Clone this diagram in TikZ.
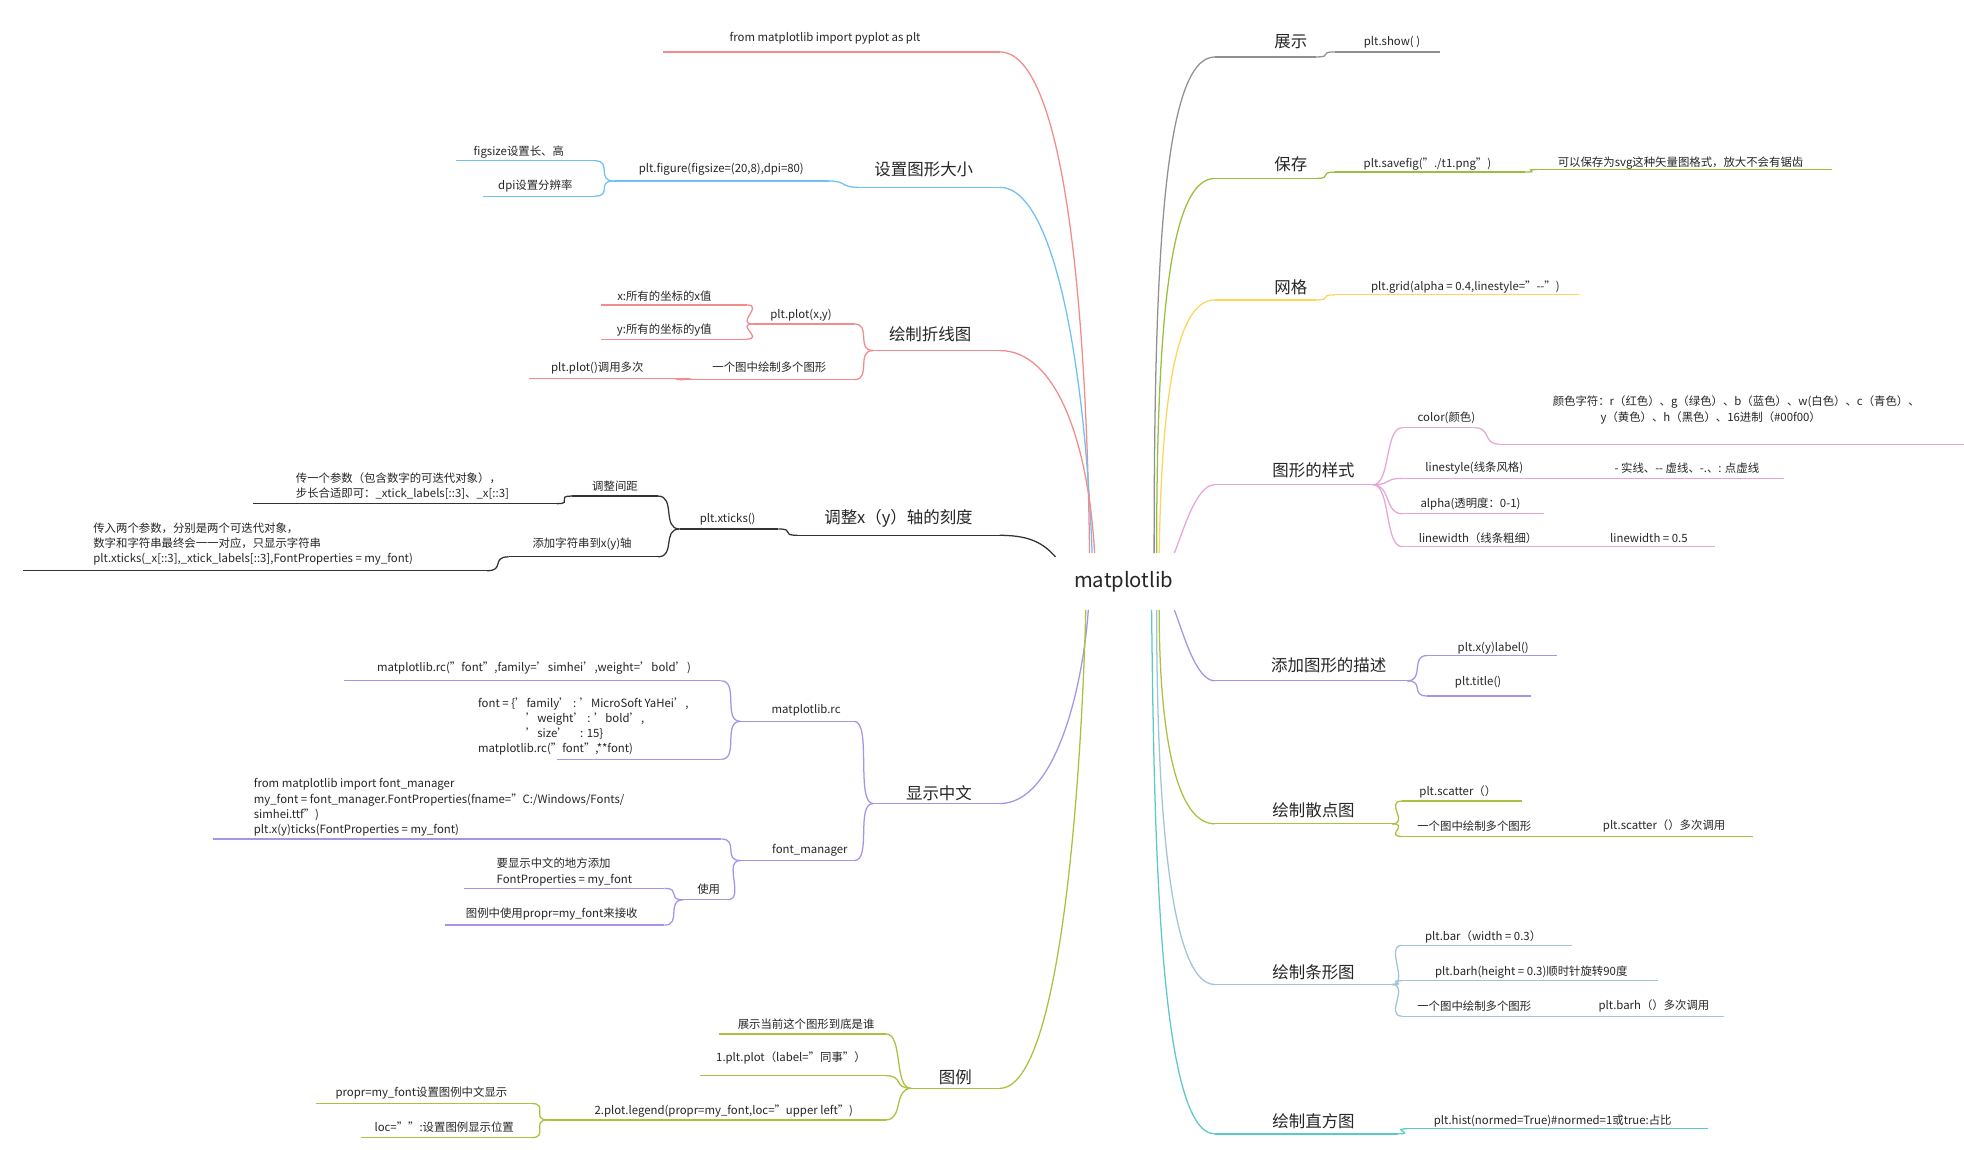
\documentclass[tikz,border=0pt]{standalone}
\usepackage{fontspec}
\usetikzlibrary{calc}
\setmainfont{Noto Sans CJK SC}
\definecolor{cred}{HTML}{F28B8B}
\definecolor{cblue}{HTML}{6EC1F0}
\definecolor{cdark}{HTML}{333333}
\definecolor{cpurp}{HTML}{A993E6}
\definecolor{colive}{HTML}{A9C23F}
\definecolor{cgray}{HTML}{909090}
\definecolor{cgreen}{HTML}{9BBE3C}
\definecolor{cyel}{HTML}{FFD35C}
\definecolor{cpink}{HTML}{E7A6D6}
\definecolor{cbg}{HTML}{A3C4D4}
\definecolor{cteal}{HTML}{5CC8C8}
\tikzset{sm/.style={font=\fontsize{9}{12}\selectfont,inner sep=0pt,align=left,text=black!85},
 big/.style={font=\fontsize{13}{15}\selectfont,inner sep=0pt,text=black!85},
 ln/.style={line width=1pt}}
\newcommand\ul[9]{\coordinate (#1-l) at (#2,#4);\coordinate (#1-r) at (#3,#4);
 \draw[ln,#5] (#1-l)--(#1-r); \node[#8] (#1) at (#6,#7) {#9};}
\newcommand\cL[3]{\draw[ln,#3] (#1-l) .. controls +(-14,0) and +(14,0) .. (#2-r);}
\newcommand\cR[3]{\draw[ln,#3] (#1-r) .. controls +(14,0) and +(-14,0) .. (#2-l);}
\begin{document}
\begin{tikzpicture}[x=1pt,y=-1pt]
\useasboundingbox[fill=white] (0,0) rectangle (1552,908);
\node[font=\fontsize{16}{18}\selectfont,text=black!85] (m) at (888,460) {matplotlib};
\coordinate (cTL) at (861,437);\coordinate (cBL) at (860,482);
\coordinate (cTR) at (912,437);\coordinate (cBR) at (912,482);
% ---- left side
\ul{imp}{524}{790}{41}{cred}{652}{30}{sm}{from matplotlib import pyplot as plt}
\draw[ln,cred] (imp-r) .. controls (835,41) and (858,200) .. (cTL);

\ul{fig}{678}{790}{148}{cblue}{730}{134}{big}{设置图形大小}
\draw[ln,cblue] (fig-r) .. controls (835,148) and (858,300) .. ($(cTL)+(2,0)$);
\ul{pfig}{485}{655}{143}{cblue}{570}{134}{sm}{plt.figure(figsize=(20,8),dpi=80)}
\cL{fig}{pfig}{cblue}
\ul{fsz}{360}{470}{127}{cblue}{410}{120}{sm}{figsize设置长、高}
\ul{dpi}{382}{470}{155}{cblue}{423}{147}{sm}{dpi设置分辨率}
\cL{pfig}{fsz}{cblue}\cL{pfig}{dpi}{cblue}

\ul{line}{690}{790}{277}{cred}{735}{264}{big}{绘制折线图}
\draw[ln,cred] (line-r) .. controls (835,277) and (860,350) .. ($(cTL)+(4,0)$);
\ul{pplot}{595}{675}{256}{cred}{633}{249}{sm}{plt.plot(x,y)}
\ul{multi}{540}{675}{300}{cred}{608}{290}{sm}{一个图中绘制多个图形}
\cL{line}{pplot}{cred}\cL{line}{multi}{cred}
\ul{px}{475}{590}{241}{cred}{525}{234}{sm}{x:所有的坐标的x值}
\ul{py}{475}{590}{268}{cred}{525}{261}{sm}{y:所有的坐标的y值}
\cL{pplot}{px}{cred}\cL{pplot}{py}{cred}
\ul{pmul}{418}{540}{299}{cred}{472}{291}{sm}{plt.plot()调用多次}
\cL{multi}{pmul}{cred}

\ul{tick}{630}{790}{423}{cdark}{710}{410}{big}{调整x（y）轴的刻度}
\draw[ln,cdark] (tick-r) .. controls (815,423) and (825,430) .. (834,440);
\ul{xt}{537}{615}{418}{cdark}{575}{410}{sm}{plt.xticks()}
\cL{tick}{xt}{cdark}
\ul{gap}{452}{520}{392}{cdark}{486}{384}{sm}{调整间距}
\ul{addstr}{402}{520}{440}{cdark}{460}{430}{sm}{添加字符串到x(y)轴}
\cL{xt}{gap}{cdark}\cL{xt}{addstr}{cdark}
\ul{one}{200}{440}{398}{cdark}{318}{384}{sm}{传一个参数（包含数字的可迭代对象），\\步长合适即可：\_xtick\_labels[::3]、\_x[::3]}
\cL{gap}{one}{cdark}
\ul{two}{18}{385}{451}{cdark}{200}{430}{sm}{传入两个参数，分别是两个可迭代对象，\\数字和字符串最终会一一对应，只显示字符串\\plt.xticks(\_x[::3],\_xtick\_labels[::3],FontProperties = my\_font)}
\cL{addstr}{two}{cdark}

\ul{cn}{690}{790}{635}{cpurp}{742}{627}{big}{显示中文}
\draw[ln,cpurp] (cn-r) .. controls (835,635) and (856,540) .. (cBL);
\ul{mrc}{585}{675}{570}{cpurp}{637}{561}{sm}{matplotlib.rc}
\ul{fm}{585}{675}{680}{cpurp}{640}{672}{sm}{font\_manager}
\cL{cn}{mrc}{cpurp}\cL{cn}{fm}{cpurp}
\ul{rc1}{272}{570}{538}{cpurp}{422}{528}{sm}{matplotlib.rc("font",family='simhei',weight='bold')}
\ul{rc2}{440}{570}{600}{cpurp}{461}{574}{sm}{font = \{'family' : 'MicroSoft YaHei',\\\hspace{4.2em}'weight' : 'bold',\\\hspace{4.2em}'size'\quad : 15\}\\matplotlib.rc("font",**font)}
\cL{mrc}{rc1}{cpurp}\cL{mrc}{rc2}{cpurp}
\ul{fm1}{168}{570}{663}{cpurp}{347}{638}{sm}{from matplotlib import font\_manager\\my\_font = font\_manager.FontProperties(fname="C:/Windows/Fonts/\\simhei.ttf")\\plt.x(y)ticks(FontProperties = my\_font)}
\ul{use}{540}{575}{711}{cpurp}{560}{703}{sm}{使用}
\cL{fm}{fm1}{cpurp}\cL{fm}{use}{cpurp}
\ul{use1}{367}{525}{702}{cpurp}{446}{689}{sm}{要显示中文的地方添加\\FontProperties = my\_font}
\ul{use2}{352}{525}{731}{cpurp}{436}{722}{sm}{图例中使用propr=my\_font来接收}
\cL{use}{use1}{cpurp}\cL{use}{use2}{cpurp}

\ul{leg}{720}{790}{860}{colive}{755}{851}{big}{图例}
\draw[ln,colive] (leg-r) .. controls (840,860) and (855,600) .. ($(cBL)+(-2,0)$);
\ul{lg1}{568}{700}{817}{colive}{637}{809}{sm}{展示当前这个图形到底是谁}
\ul{lg2}{553}{700}{850}{colive}{625}{836}{sm}{1.plt.plot（label="同事"）}
\ul{lg3}{433}{700}{885}{colive}{572}{878}{sm}{2.plot.legend(propr=my\_font,loc="upper left")}
\cL{leg}{lg1}{colive}\cL{leg}{lg2}{colive}\cL{leg}{lg3}{colive}
\ul{lg31}{250}{420}{872}{colive}{333}{864}{sm}{propr=my\_font设置图例中文显示}
\ul{lg32}{285}{420}{899}{colive}{351}{891}{sm}{loc="":设置图例显示位置}
\cL{lg3}{lg31}{colive}\cL{lg3}{lg32}{colive}
% ---- right side
\ul{show}{960}{1040}{45}{cgray}{1020}{33}{big}{展示}
\draw[ln,cgray] (show-l) .. controls (920,45) and (912,200) .. (cTR);
\ul{pshow}{1055}{1138}{41}{cgray}{1100}{33}{sm}{plt.show( )}
\cR{show}{pshow}{cgray}

\ul{save}{960}{1040}{141}{cgreen}{1020}{130}{big}{保存}
\draw[ln,cgreen] (save-l) .. controls (925,141) and (914,250) .. ($(cTR)+(2,0)$);
\ul{psave}{1055}{1205}{136}{cgreen}{1128}{130}{sm}{plt.savefig("./t1.png")}
\cR{save}{psave}{cgreen}
\ul{svg}{1215}{1448}{134}{cgreen}{1328}{129}{sm}{可以保存为svg这种矢量图格式，放大不会有锯齿}
\cR{psave}{svg}{cgreen}

\ul{grid}{960}{1040}{237}{cyel}{1020}{227}{big}{网格}
\draw[ln,cyel] (grid-l) .. controls (928,237) and (918,320) .. ($(cTR)+(4,0)$);
\ul{pgrid}{1055}{1248}{233}{cyel}{1158}{227}{sm}{plt.grid(alpha = 0.4,linestyle="-{}-")}
\cR{grid}{pgrid}{cyel}

\ul{sty}{960}{1085}{383}{cpink}{1038}{372}{big}{图形的样式}
\draw[ln,cpink] (sty-l) .. controls (945,383) and (935,420) .. (928,437);
\ul{col}{1108}{1165}{338}{cpink}{1143}{330}{sm}{color(颜色)}
\ul{lst}{1108}{1410}{378}{cpink}{1165}{370}{sm}{linestyle(线条风格)}
\ul{alp}{1108}{1220}{406}{cpink}{1162}{398}{sm}{alpha(透明度：0-1)}
\ul{lw}{1108}{1355}{432}{cpink}{1168}{425}{sm}{linewidth（线条粗细）}
\cR{sty}{col}{cpink}\cR{sty}{lst}{cpink}\cR{sty}{alp}{cpink}\cR{sty}{lw}{cpink}
\ul{colv}{1185}{1552}{351}{cpink}{1372}{324}{sm}{颜色字符：r（红色）、g（绿色）、b（蓝色）、w(白色）、c（青色）、\\\hspace{4.2em}y（黄色）、h（黑色）、16进制（\#00f00）}
\cR{col}{colv}{cpink}
\node[sm] (lstv) at (1333,370) {- 实线、-{}- 虚线、-.、: 点虚线};
\node[sm] (lwv) at (1303,425) {linewidth = 0.5};

\ul{desc}{960}{1112}{538}{cpurp}{1050}{526}{big}{添加图形的描述}
\draw[ln,cpurp] (desc-l) .. controls (945,538) and (935,500) .. (928,482);
\ul{xl}{1128}{1230}{518}{cpurp}{1180}{512}{sm}{plt.x(y)label()}
\ul{tt}{1128}{1210}{550}{cpurp}{1168}{539}{sm}{plt.title()}
\cR{desc}{xl}{cpurp}\cR{desc}{tt}{cpurp}

\ul{sc}{960}{1100}{651}{colive}{1038}{640}{big}{绘制散点图}
\draw[ln,colive] (sc-l) .. controls (925,651) and (916,560) .. ($(cBR)+(4,0)$);
\ul{sc1}{1108}{1203}{633}{colive}{1152}{626}{sm}{plt.scatter（）}
\ul{sc2}{1108}{1385}{661}{colive}{1165}{653}{sm}{一个图中绘制多个图形}
\cR{sc}{sc1}{colive}\cR{sc}{sc2}{colive}
\node[sm] (sc3) at (1315,653) {plt.scatter（）多次调用};

\ul{bar}{960}{1100}{778}{cbg}{1038}{768}{big}{绘制条形图}
\draw[ln,cbg] (bar-l) .. controls (920,778) and (914,600) .. ($(cBR)+(2,0)$);
\ul{b1}{1108}{1242}{747}{cbg}{1172}{740}{sm}{plt.bar（width = 0.3）}
\ul{b2}{1108}{1310}{775}{cbg}{1210}{768}{sm}{plt.barh(height = 0.3)顺时针旋转90度}
\ul{b3}{1108}{1362}{803}{cbg}{1165}{795}{sm}{一个图中绘制多个图形}
\cR{bar}{b1}{cbg}\cR{bar}{b2}{cbg}\cR{bar}{b3}{cbg}
\node[sm] (b4) at (1307,795) {plt.barh（）多次调用};

\ul{hist}{960}{1105}{896}{cteal}{1038}{886}{big}{绘制直方图}
\draw[ln,cteal] (hist-l) .. controls (915,896) and (912,650) .. ($(cBR)+(-2,0)$);
\ul{h1}{1112}{1350}{892}{cteal}{1227}{886}{sm}{plt.hist(normed=True)\#normed=1或true:占比}
\cR{hist}{h1}{cteal}
\end{tikzpicture}
\end{document}
